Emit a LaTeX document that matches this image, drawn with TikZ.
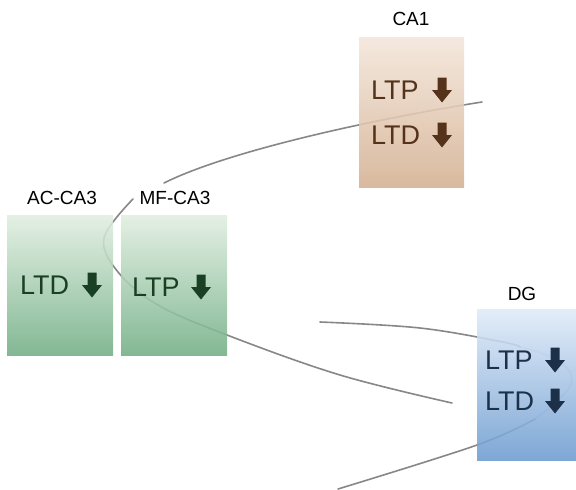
\documentclass[tikz,border=0pt]{standalone}
\usepackage{fontspec}
\setmainfont{Liberation Sans}
\definecolor{brtop}{RGB}{243,230,218}
\definecolor{brbot}{RGB}{212,176,146}
\definecolor{brtxt}{RGB}{85,50,26}
\definecolor{grtop}{RGB}{224,238,224}
\definecolor{grbot}{RGB}{114,174,133}
\definecolor{grtxt}{RGB}{26,64,36}
\definecolor{bltop}{RGB}{224,235,248}
\definecolor{blbot}{RGB}{108,155,208}
\definecolor{bltxt}{RGB}{28,48,74}
\definecolor{linegray}{RGB}{135,135,135}
\tikzset{
  region/.style={draw=none, fill opacity=0.88},
  lbl/.style={font=\fontsize{19}{19}\selectfont, text=black, inner sep=0pt},
  eff/.style={font=\fontsize{27}{27}\selectfont, inner sep=0pt, anchor=west},
  path/.style={draw=linegray, line width=1.6pt, line cap=round},
  faint/.style={draw opacity=0.35},
  darr/.pic={\fill (-4.5,-12.5) -- (4.5,-12.5) -- (4.5,0) -- (10,0) -- (0,12.5) -- (-10,0) -- (-4.5,0) -- cycle;}
}
\begin{document}
\begin{tikzpicture}[x=1pt,y=-1pt]
\useasboundingbox (0,0) rectangle (576,490);
% pathways
\draw[path] (482,102) .. controls (380,118) and (230,150) .. (164,183);
\draw[path] plot[smooth, tension=0.6] coordinates {(133,199) (104,238) (118,272) (158,305) (227,335) (340,375) (452,403)};
\draw[path] plot[smooth, tension=0.6] coordinates {(320,322) (420,328) (503,342) (520,347)};
\draw[path, faint] plot[smooth, tension=0.7] coordinates {(520,347) (560,362) (570,386) (535,419)};
\draw[path] plot[smooth, tension=0.6] coordinates {(535,419) (477,445) (338,489)};
% regions
\shade[region, top color=brtop, bottom color=brbot] (359,37) rectangle (464,187);
\shade[region, top color=grtop, bottom color=grbot] (7,215) rectangle (113,355);
\shade[region, top color=grtop, bottom color=grbot] (121,215) rectangle (227,355);
\shade[region, top color=bltop, bottom color=blbot] (477,309) rectangle (576,460);
% labels
\node[lbl] (ca1) at (411,19) {CA1};
\node[lbl] (acca3) at (62,198) {AC-CA3};
\node[lbl] (mfca3) at (175,198) {MF-CA3};
\node[lbl] (dg) at (522,294) {DG};
% effects
\node[eff, text=brtxt] (ca1ltp) at (371,90) {LTP};
\node[eff, text=brtxt] (ca1ltd) at (371,135) {LTD};
\pic[fill=brtxt] at (442,90) {darr};
\pic[fill=brtxt] at (442,135) {darr};
\node[eff, text=grtxt] (acltd) at (20,285) {LTD};
\pic[fill=grtxt] at (92,285) {darr};
\node[eff, text=grtxt] (mfltp) at (132,287) {LTP};
\pic[fill=grtxt] at (201,287) {darr};
\node[eff, text=bltxt] (dgltp) at (485,360) {LTP};
\pic[fill=bltxt] at (555,360) {darr};
\node[eff, text=bltxt] (dgltd) at (485,401) {LTD};
\pic[fill=bltxt] at (555,401) {darr};
\end{tikzpicture}
\end{document}
